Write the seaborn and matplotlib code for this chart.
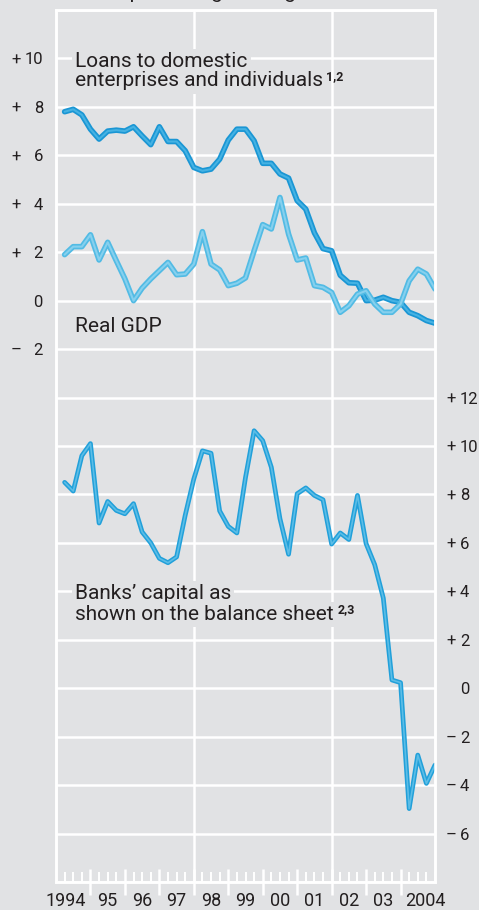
import matplotlib
matplotlib.use("Agg")
import numpy as np
import pandas as pd
import matplotlib.pyplot as plt
import matplotlib.patheffects as pe
import matplotlib.transforms as mtransforms
from matplotlib.ticker import FixedLocator, FuncFormatter
import seaborn as sns

# ---------------- data ----------------
years = list(range(1994, 2005))
quarters = [1, 2, 3, 4]
year_labels = ["1994", "95", "96", "97", "98", "99", "00", "01", "02", "03", "2004"]

loans = [7.8, 7.9, 7.67, 7.08, 6.67, 7.0, 7.04, 7.0, 7.18, 6.8, 6.44, 7.18,
         6.57, 6.57, 6.19, 5.5, 5.36, 5.43, 5.84, 6.63, 7.08, 7.08, 6.6, 5.67,
         5.67, 5.23, 5.06, 4.13, 3.78, 2.8, 2.15, 2.06, 1.05, 0.74, 0.72, 0.0,
         0.02, 0.14, 0.0, -0.07, -0.48, -0.62, -0.82, -0.93]
gdp = [1.9, 2.23, 2.23, 2.72, 1.68, 2.41, 1.65, 0.9, 0.0, 0.52, 0.9, 1.24,
       1.58, 1.07, 1.1, 1.51, 2.85, 1.51, 1.27, 0.62, 0.72, 0.94, 2.06, 3.14,
       2.96, 4.26, 2.75, 1.68, 1.76, 0.62, 0.55, 0.34, -0.48, -0.21, 0.27, 0.41,
       -0.14, -0.48, -0.48, -0.14, 0.82, 1.3, 1.1, 0.48]
banks = [8.5, 8.14, 9.6, 10.1, 6.82, 7.71, 7.34, 7.2, 7.62, 6.45, 6.0, 5.36,
         5.18, 5.42, 7.14, 8.64, 9.8, 9.7, 7.32, 6.68, 6.41, 8.7, 10.63, 10.22,
         9.12, 7.0, 5.53, 8.03, 8.27, 7.96, 7.78, 5.95, 6.41, 6.14, 7.96, 5.97,
         5.1, 3.72, 0.34, 0.23, -4.97, -2.76, -3.93, -3.17]

left_ticks = [10, 8, 6, 4, 2, 0, -2]
right_ticks = [12, 10, 8, 6, 4, 2, 0, -2, -4, -6]
grid_years = [1998, 2002]

title = "Annual percentage change"
label_loans = ["Loans to domestic", "enterprises and individuals"]
sup_loans = "1,2"
label_gdp = "Real GDP"
label_banks = ["Banks\u2019 capital as", "shown on the balance sheet"]
sup_banks = "2,3"

# ---------------- style ----------------
BG = "#e1e2e4"
TXT = "#231f20"
sns.set_theme(style="darkgrid", rc={
    "axes.facecolor": BG, "figure.facecolor": BG,
    "grid.color": "white", "grid.linewidth": 1.8,
})
plt.rcParams["font.family"] = ["Roboto", "DejaVu Sans"]
plt.rcParams["text.color"] = TXT

x = [y + q / 4 for y in years for q in quarters]
df = pd.DataFrame({"x": x, "loans": loans, "gdp": gdp, "banks": banks})

fig = plt.figure(figsize=(4.79, 9.10), dpi=100)
W, H = 479, 910
ax_l, ax_r, ax_t, ax_b = 56, 435, 10, 882
ax = fig.add_axes([ax_l / W, 1 - ax_b / H, (ax_r - ax_l) / W, (ax_b - ax_t) / H])
ax2 = ax.twinx()

ax.set_xlim(1994, 2005)
ax.set_ylim(-24, 12)
ax2.set_ylim(-8, 28)

# gridlines (horizontal every 2 units)
ax.yaxis.set_major_locator(FixedLocator(list(range(-24, 13, 2))))
ax.yaxis.set_major_formatter(FuncFormatter(
    lambda v, p: str(abs(int(round(v)))) if int(round(v)) in left_ticks else ""))
ax.grid(axis="y", color="white", lw=1.8)
ax.grid(axis="x", visible=False)
for gy in grid_years:
    ax.axvline(gy, color="white", lw=1.8, zorder=0.6)

ax.tick_params(axis="y", length=0, pad=9.4, labelsize=12, labelcolor=TXT)
ax2.set_yticks(right_ticks)
ax2.set_yticklabels([str(abs(v)) for v in right_ticks])
ax2.tick_params(axis="y", length=0, pad=18, labelsize=12, labelcolor=TXT)
ax2.grid(False)

# x ticks: year boundaries and quarters
ax.set_xticks(years[1:])
ax.set_xticklabels([])
ax.set_xticks(x, minor=True)
ax.tick_params(axis="x", which="major", direction="inout", length=19, width=1.8,
               color="white", bottom=True)
ax.tick_params(axis="x", which="minor", direction="in", length=7, width=1.4,
               color="white", bottom=True)

for a in (ax, ax2):
    for s in a.spines.values():
        s.set_visible(True)
        s.set_color("white")
        s.set_linewidth(1.8)

# year labels
for yr, lab in zip(years, year_labels):
    dx = -7.5 if lab == "1994" else (7.5 if lab == "2004" else 0)
    tr = mtransforms.blended_transform_factory(ax.transData, ax.transAxes) + \
        mtransforms.ScaledTranslation(dx / 100, 0, fig.dpi_scale_trans)
    ax.text(yr + 0.5, (ax_b - 906.5) / (ax_b - ax_t), lab, transform=tr,
            ha="center", va="baseline", fontsize=13, color=TXT, clip_on=False)

# sign columns for tick labels
trl = mtransforms.blended_transform_factory(ax.transAxes, ax.transData)
for v in left_ticks:
    s = "+" if v > 0 else ("\u2013" if v < 0 else "")
    if s:
        ax.text((16.5 - ax_l) / (ax_r - ax_l), v, s, transform=trl, ha="center",
                va="center_baseline", fontsize=12, color=TXT, clip_on=False)
trr = mtransforms.blended_transform_factory(ax2.transAxes, ax2.transData)
for v in right_ticks:
    s = "+" if v > 0 else ("\u2013" if v < 0 else "")
    if s:
        ax2.text((451 - ax_l) / (ax_r - ax_l), v, s, transform=trr, ha="center",
                 va="center_baseline", fontsize=12, color=TXT, clip_on=False)

# lines
def fx(outer, inner, w_out, w_in):
    return dict(color=inner, lw=w_in,
                path_effects=[pe.Stroke(linewidth=w_out, foreground=outer), pe.Normal()])

sns.lineplot(data=df, x="x", y="loans", ax=ax, **fx("#1a96d4", "#45b2e3", 4.0, 1.5))
sns.lineplot(data=df, x="x", y="gdp", ax=ax, **fx("#52bbe4", "#86d0ee", 4.0, 1.5))
sns.lineplot(data=df, x="x", y="banks", ax=ax2, **fx("#21a0da", "#5cbde6", 3.4, 1.2))
ax.set_xlabel(""); ax.set_ylabel(""); ax2.set_xlabel(""); ax2.set_ylabel("")
ax.set_xlim(1994, 2005)

# labels
def ay(py):
    return (ax_b - py) / (ax_b - ax_t)

axx = (75 - ax_l) / (ax_r - ax_l)
bb = dict(boxstyle="square,pad=0.15", fc=BG, ec="none")


def two_line(lines, base1, base2, sup, sup_dx):
    ax.text(axx, ay(base1), lines[0], transform=ax.transAxes, fontsize=15,
            va="baseline", ha="left", bbox=bb, zorder=4)
    t2 = ax.text(axx, ay(base2), lines[1], transform=ax.transAxes, fontsize=15,
                 va="baseline", ha="left", bbox=bb, zorder=4.2)
    ax.annotate(sup, xy=(1, 0), xycoords=t2, xytext=(sup_dx, 7.5),
                textcoords="offset points", fontsize=9, fontweight="bold",
                va="baseline", ha="left", zorder=5)


two_line(label_loans, 67, 86.5, sup_loans, 2.5)
ax.text(axx, ay(332), label_gdp, transform=ax.transAxes, fontsize=15,
        va="baseline", ha="left", zorder=4)
two_line(label_banks, 599, 620, sup_banks, 3)

fig.text(60 / W, 1 + 1.5 / H, title, ha="left", va="baseline", fontsize=15, color=TXT)

fig.savefig("out.png", dpi=100, facecolor=BG)
